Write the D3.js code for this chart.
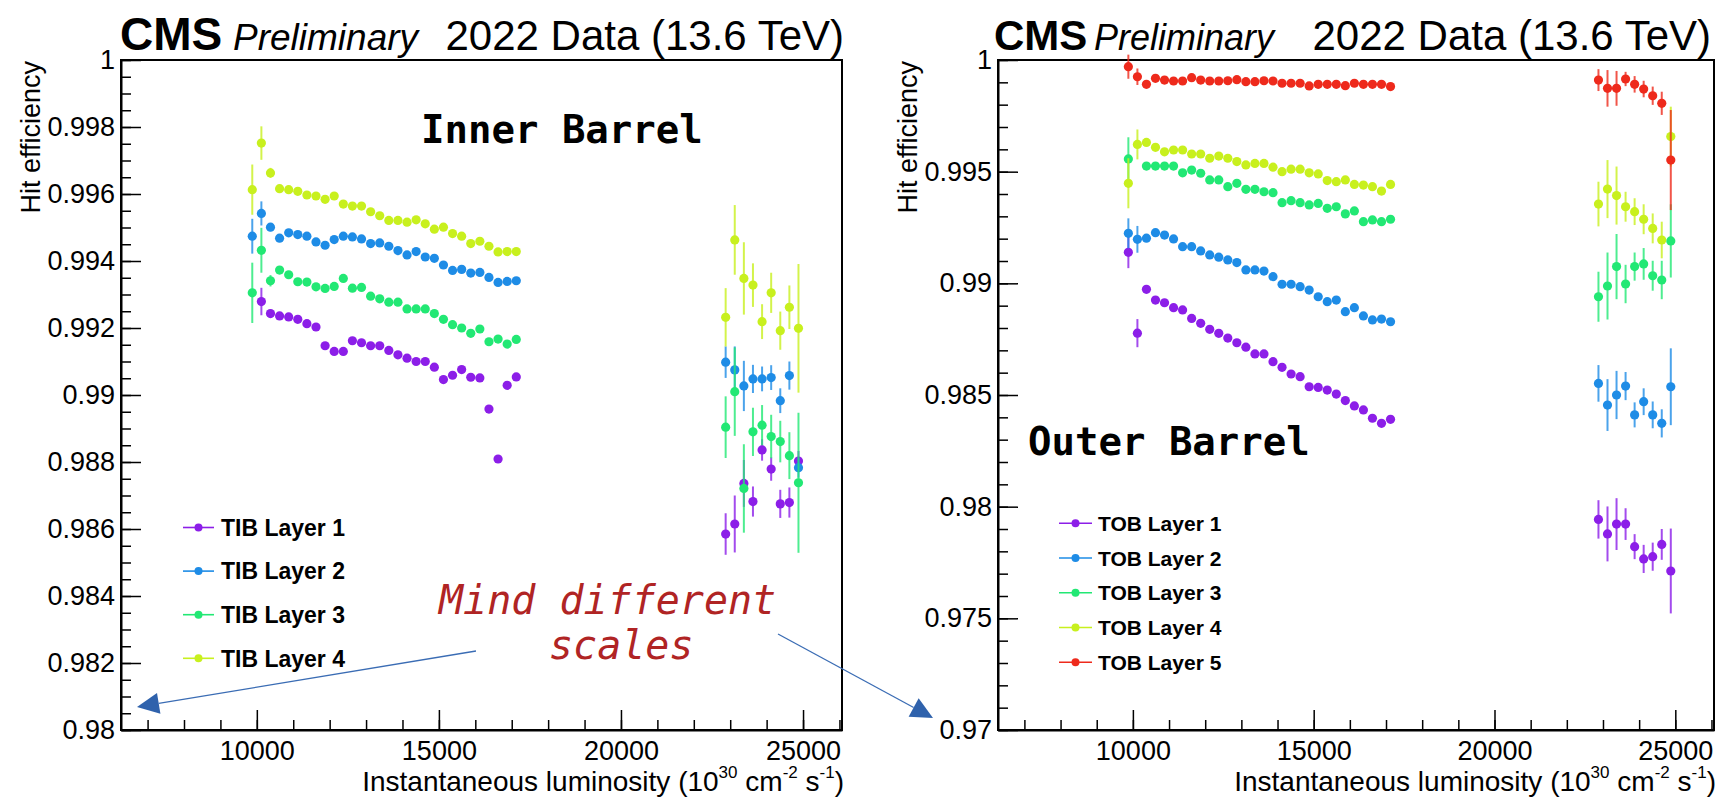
<!DOCTYPE html>
<html>
<head>
<meta charset="utf-8">
<script src="https://cdn.jsdelivr.net/npm/d3@7"></script>
<style>
  body { margin: 0; background: #fff; }
  svg text { font-family: "Liberation Sans", Arial, Helvetica, sans-serif; }
  .mono { font-family: "DejaVu Sans Mono", monospace !important; }
</style>
</head>
<body>
<script>
// luminosity bin centres (10^30 cm^-2 s^-1)
var lumi = [9875, 10125, 10375, 10625, 10875, 11125, 11375, 11625, 11875, 12125,
            12375, 12625, 12875, 13125, 13375, 13625, 13875, 14125, 14375, 14625,
            14875, 15125, 15375, 15625, 15875, 16125, 16375, 16625, 16875, 17125,
            22875, 23125, 23375, 23625, 23875, 24125, 24375, 24625, 24875];

// Inner barrel efficiencies
var tib1 = [null, 0.99279, 0.99243, 0.99236, 0.99233, 0.99226, 0.99213, 0.99203, 0.99147, 0.9913,
            0.9913, 0.99162, 0.99156, 0.99147, 0.99147, 0.99133, 0.9912, 0.9911, 0.991, 0.991,
            0.99083, 0.99046, 0.99059, 0.99076, 0.99053, 0.99051, 0.98958, 0.98809, 0.99029, 0.99054,
            0.98585, 0.98615, 0.98736, 0.98682, 0.98836, 0.98779, 0.98675, 0.98679, 0.98803];
var tib2 = [0.99474, 0.99542, 0.99501, 0.99468, 0.99484, 0.99479, 0.99474, 0.99457, 0.99447, 0.99464,
            0.99474, 0.99472, 0.99466, 0.99452, 0.99454, 0.99444, 0.99431, 0.99418, 0.99428, 0.99412,
            0.99408, 0.99388, 0.99372, 0.99375, 0.99364, 0.99366, 0.99351, 0.99336, 0.99339, 0.99341,
            0.99098, 0.99075, 0.99027, 0.99048, 0.99048, 0.99052, 0.98983, 0.99058, 0.98783];
var tib3 = [0.99305, 0.99432, 0.99341, 0.99373, 0.99359, 0.99338, 0.99337, 0.99323, 0.99318, 0.99324,
            0.99348, 0.99319, 0.99321, 0.99295, 0.99287, 0.99277, 0.99277, 0.99257, 0.99257, 0.99257,
            0.99243, 0.99226, 0.9921, 0.992, 0.99184, 0.99197, 0.99159, 0.99167, 0.99152, 0.99166,
            0.98904, 0.9901, 0.98721, 0.9889, 0.9891, 0.98876, 0.98861, 0.98819, 0.98738];
var tib4 = [0.99613, 0.99752, 0.99663, 0.99616, 0.99613, 0.99608, 0.99597, 0.99594, 0.99584, 0.99594,
            0.9957, 0.99564, 0.99564, 0.99547, 0.99535, 0.99521, 0.99521, 0.99516, 0.99523, 0.99511,
            0.99495, 0.99501, 0.99482, 0.99474, 0.99452, 0.99459, 0.99444, 0.99427, 0.99428, 0.99428,
            0.99232, 0.99463, 0.99348, 0.99328, 0.99219, 0.99305, 0.99192, 0.99262, 0.99199];

var tibErr1 = [null, 0.00041, 0.00012, 0.0001, 0.0001, 0.0001, 0.0001, 0.0001, 0.0001, 0.0001,
               0.0001, 0.0001, 0.0001, 0.0001, 0.0001, 0.0001, 0.0001, 0.0001, 0.0001, 0.0001,
               0.0001, 0.0001, 0.0001, 0.0001, 0.0001, 0.0001, 0.0001, 0.0001, 0.0001, 0.0001,
               0.00062, 0.00085, 0.0007, 0.00045, 0.00032, 0.00035, 0.00042, 0.00045, 0.0003];
var tibErr2 = [0.00052, 0.00036, 0.00012, 0.0001, 0.0001, 0.0001, 0.0001, 0.0001, 0.0001, 0.0001,
               0.0001, 0.0001, 0.0001, 0.0001, 0.0001, 0.0001, 0.0001, 0.0001, 0.0001, 0.0001,
               0.0001, 0.0001, 0.0001, 0.0001, 0.0001, 0.0001, 0.0001, 0.0001, 0.0001, 0.0001,
               0.00047, 0.0007, 0.00075, 0.00042, 0.00037, 0.00037, 0.00037, 0.00042, 0.0003];
var tibErr3 = [0.0009, 0.00067, 0.00017, 0.0001, 0.0001, 0.0001, 0.0001, 0.0001, 0.0001, 0.0001,
               0.0001, 0.0001, 0.0001, 0.0001, 0.0001, 0.0001, 0.0001, 0.0001, 0.0001, 0.0001,
               0.0001, 0.0001, 0.0001, 0.0001, 0.0001, 0.0001, 0.0001, 0.0001, 0.0001, 0.0001,
               0.00092, 0.00132, 0.00132, 0.00072, 0.0006, 0.00065, 0.00062, 0.0007, 0.00209];
var tibErr4 = [0.00075, 0.0005, 0.00015, 0.0001, 0.0001, 0.0001, 0.0001, 0.0001, 0.0001, 0.0001,
               0.0001, 0.0001, 0.0001, 0.0001, 0.0001, 0.0001, 0.0001, 0.0001, 0.0001, 0.0001,
               0.0001, 0.0001, 0.0001, 0.0001, 0.0001, 0.0001, 0.0001, 0.0001, 0.0001, 0.0001,
               0.00087, 0.00104, 0.00108, 0.00065, 0.00052, 0.0006, 0.00057, 0.00065, 0.00192];

// Outer barrel efficiencies
var tob1 = [0.99139, 0.98777, 0.98973, 0.98925, 0.98913, 0.98891, 0.98881, 0.98843, 0.98821, 0.98794,
            0.98776, 0.98755, 0.98734, 0.98714, 0.98684, 0.98684, 0.98649, 0.98624, 0.98594, 0.98582,
            0.98537, 0.98534, 0.98522, 0.98504, 0.98475, 0.98451, 0.98433, 0.98396, 0.98373, 0.98391,
            0.97943, 0.97878, 0.97922, 0.97922, 0.97821, 0.97766, 0.97776, 0.97831, 0.97712];
var tob2 = [0.99224, 0.99197, 0.99202, 0.99227, 0.99216, 0.99199, 0.99164, 0.99164, 0.99145, 0.99127,
            0.99117, 0.99105, 0.99093, 0.9906, 0.9906, 0.99055, 0.9903, 0.98996, 0.98996, 0.98985,
            0.9897, 0.9894, 0.98918, 0.98925, 0.98873, 0.98891, 0.98854, 0.98836, 0.9884, 0.98828,
            0.98552, 0.98455, 0.985, 0.9854, 0.98411, 0.9847, 0.98411, 0.98373, 0.98537];
var tob3 = [0.99557, null, 0.99525, 0.99525, 0.99525, 0.99525, 0.99495, 0.99507, 0.99493, 0.99463,
            0.99463, 0.99433, 0.99448, 0.99421, 0.99421, 0.9941, 0.99406, 0.99361, 0.9937, 0.99361,
            0.99351, 0.99358, 0.99336, 0.99343, 0.99311, 0.99324, 0.99276, 0.99284, 0.99276, 0.99287,
            0.9894, 0.98988, 0.99075, 0.98997, 0.99075, 0.99087, 0.99034, 0.99015, 0.9919];
var tob4 = [0.99448, 0.99622, 0.99631, 0.99609, 0.99589, 0.99597, 0.99597, 0.99579, 0.99579, 0.9956,
            0.9957, 0.9956, 0.99545, 0.9953, 0.99537, 0.99537, 0.9952, 0.995, 0.99511, 0.99511,
            0.99495, 0.9949, 0.9946, 0.99455, 0.99463, 0.99443, 0.9944, 0.99433, 0.99413, 0.99443,
            0.99355, 0.99422, 0.99393, 0.99343, 0.99321, 0.99287, 0.99246, 0.99194, 0.99657];
var tob5 = [0.9997, 0.99925, 0.99891, 0.99918, 0.9991, 0.99906, 0.99906, 0.99921, 0.9991, 0.99906,
            0.99906, 0.99907, 0.99912, 0.99903, 0.99903, 0.99907, 0.99906, 0.99896, 0.99896, 0.99896,
            0.99884, 0.99891, 0.99891, 0.99891, 0.99885, 0.99896, 0.99891, 0.99891, 0.99891, 0.99881,
            0.9991, 0.99873, 0.99873, 0.99915, 0.99891, 0.9987, 0.9984, 0.99806, 0.99552];

var tobErr1 = [0.00071, 0.00063, 0.00015, 0.00015, 0.00015, 0.00015, 0.00015, 0.00015, 0.00015, 0.00015,
               0.00015, 0.00015, 0.00015, 0.00015, 0.00015, 0.00015, 0.00015, 0.00015, 0.00015, 0.00015,
               0.00015, 0.00015, 0.00015, 0.00015, 0.00015, 0.00015, 0.00015, 0.00015, 0.00015, 0.00015,
               0.00086, 0.00123, 0.00116, 0.00071, 0.00056, 0.00063, 0.00063, 0.00069, 0.0019];
var tobErr2 = [0.00067, 0.0006, 0.00015, 0.00015, 0.00015, 0.00015, 0.00015, 0.00015, 0.00015, 0.00015,
               0.00015, 0.00015, 0.00015, 0.00015, 0.00015, 0.00015, 0.00015, 0.00015, 0.00015, 0.00015,
               0.00015, 0.00015, 0.00015, 0.00015, 0.00015, 0.00015, 0.00015, 0.00015, 0.00015, 0.00015,
               0.00082, 0.00116, 0.00108, 0.00063, 0.00056, 0.0006, 0.0006, 0.00063, 0.00172];
var tobErr3 = [0.00097, null, 0.00015, 0.00015, 0.00015, 0.00015, 0.00015, 0.00015, 0.00015, 0.00015,
               0.00015, 0.00015, 0.00015, 0.00015, 0.00015, 0.00015, 0.00015, 0.00015, 0.00015, 0.00015,
               0.00015, 0.00015, 0.00015, 0.00015, 0.00015, 0.00015, 0.00015, 0.00015, 0.00015, 0.00015,
               0.00112, 0.0015, 0.00146, 0.00086, 0.00063, 0.00071, 0.00067, 0.00086, 0.00164];
var tobErr4 = [0.00112, 0.00067, 0.00015, 0.00015, 0.00015, 0.00015, 0.00015, 0.00015, 0.00015, 0.00015,
               0.00015, 0.00015, 0.00015, 0.00015, 0.00015, 0.00015, 0.00015, 0.00015, 0.00015, 0.00015,
               0.00015, 0.00015, 0.00015, 0.00015, 0.00015, 0.00015, 0.00015, 0.00015, 0.00015, 0.00015,
               0.001, 0.0013, 0.0013, 0.00067, 0.0006, 0.00067, 0.00067, 0.00082, 0.00134];
var tobErr5 = [0.00054, 0.00037, 0.00015, 0.00015, 0.00015, 0.00015, 0.00015, 0.00015, 0.00015, 0.00015,
               0.00015, 0.00015, 0.00015, 0.00015, 0.00015, 0.00015, 0.00015, 0.00015, 0.00015, 0.00015,
               0.00015, 0.00015, 0.00015, 0.00015, 0.00015, 0.00015, 0.00015, 0.00015, 0.00015, 0.00015,
               0.00049, 0.00082, 0.00078, 0.00032, 0.00037, 0.00037, 0.00041, 0.00052, 0.00224];

var tibNames = ["TIB Layer 1", "TIB Layer 2", "TIB Layer 3", "TIB Layer 4"];
var tobNames = ["TOB Layer 1", "TOB Layer 2", "TOB Layer 3", "TOB Layer 4", "TOB Layer 5"];
var layerColors = ["#8c1ee8", "#1e8ce6", "#22e874", "#c8f01e", "#ee2a1c"];

var xDomain = [6270, 26070];
var xMajor = [10000, 15000, 20000, 25000];
var tibTicks = [0.98, 0.982, 0.984, 0.986, 0.988, 0.99, 0.992, 0.994, 0.996, 0.998, 1];
var tobTicks = [0.97, 0.975, 0.98, 0.985, 0.99, 0.995, 1];

var svg = d3.select("body").append("svg")
    .attr("width", 1722)
    .attr("height", 800);

function styleAxis(sel, fontSize) {
    sel.attr("font-size", fontSize)
       .attr("font-family", "'Liberation Sans', Arial, sans-serif");
    sel.selectAll(".tick line").attr("stroke-width", 1.5);
    sel.selectAll(".tick text").attr("fill", "#000");
    sel.select(".domain").attr("stroke-width", 2);
}

function drawPanel(p) {
    var w = p.width, h = p.height;
    var g = svg.append("g").attr("transform", "translate(" + p.left + "," + p.top + ")");

    var x = d3.scaleLinear().domain(xDomain).range([0, w]);
    var y = d3.scaleLinear().domain(p.yDomain).range([h, 0]);

    // minor ticks, inward
    var xMinor = d3.range(7000, 26001, 1000);
    var yMinor = d3.range(p.yDomain[0], p.yDomain[1] + p.yStep / 2, p.yStep);

    g.append("g").attr("transform", "translate(0," + h + ")")
        .call(d3.axisBottom(x).tickValues(xMinor).tickSize(-10).tickFormat(""))
        .call(function(s) { s.select(".domain").remove(); s.selectAll("line").attr("stroke-width", 1.5); });
    g.append("g")
        .call(d3.axisLeft(y).tickValues(yMinor).tickSize(-10).tickFormat(""))
        .call(function(s) { s.select(".domain").remove(); s.selectAll("line").attr("stroke-width", 1.5); });

    // major ticks + labels
    var gx = g.append("g").attr("transform", "translate(0," + h + ")")
        .call(d3.axisBottom(x).tickValues(xMajor).tickSize(-20).tickSizeOuter(0)
              .tickPadding(11).tickFormat(d3.format("d")));
    styleAxis(gx, 27);

    var gy = g.append("g")
        .call(d3.axisLeft(y).tickValues(p.yTicks).tickSize(-20).tickSizeOuter(0)
              .tickPadding(6).tickFormat(d3.format(".3~f")));
    styleAxis(gy, 27);

    // frame
    g.append("rect")
        .attr("width", w).attr("height", h)
        .attr("fill", "none").attr("stroke", "#000").attr("stroke-width", 2);

    // axis titles
    g.append("text")
        .attr("transform", "rotate(-90)")
        .attr("x", -1).attr("y", -81)
        .attr("text-anchor", "end")
        .attr("font-size", 27)
        .text("Hit efficiency");

    var xt = g.append("text")
        .attr("x", w + 2).attr("y", h + 61)
        .attr("text-anchor", "end")
        .attr("font-size", 28);
    xt.append("tspan").text("Instantaneous luminosity (10");
    xt.append("tspan").attr("dy", -13).attr("font-size", 17).text("30");
    xt.append("tspan").attr("dy", 13).text(" cm");
    xt.append("tspan").attr("dy", -13).attr("font-size", 17).text("-2");
    xt.append("tspan").attr("dy", 13).text(" s");
    xt.append("tspan").attr("dy", -13).attr("font-size", 17).text("-1");
    xt.append("tspan").attr("dy", 13).text(")");

    // data: error bars then markers, layer by layer
    p.series.forEach(function(vals, k) {
        var pts = lumi.map(function(l, i) { return {x: l, v: vals[i], e: p.errors[k][i]}; })
                      .filter(function(d) { return d.v != null; });
        var col = layerColors[k];
        var s = g.append("g");
        s.selectAll("line.err").data(pts).enter().append("line")
            .attr("class", "err")
            .attr("x1", function(d) { return x(d.x); })
            .attr("x2", function(d) { return x(d.x); })
            .attr("y1", function(d) { return y(d.v - d.e); })
            .attr("y2", function(d) { return y(d.v + d.e); })
            .attr("stroke", col).attr("stroke-width", 2).attr("stroke-opacity", 0.8);
        s.selectAll("circle").data(pts).enter().append("circle")
            .attr("cx", function(d) { return x(d.x); })
            .attr("cy", function(d) { return y(d.v); })
            .attr("r", 4.6)
            .attr("fill", col);
    });

    // legend
    var lg = p.legend;
    p.names.forEach(function(name, k) {
        var yy = lg.y0 + k * lg.dy;
        svg.append("line")
            .attr("x1", lg.x1).attr("x2", lg.x2).attr("y1", yy).attr("y2", yy)
            .attr("stroke", layerColors[k]).attr("stroke-width", 1.6);
        svg.append("circle")
            .attr("cx", (lg.x1 + lg.x2) / 2).attr("cy", yy).attr("r", 4)
            .attr("fill", layerColors[k]);
        svg.append("text")
            .attr("x", lg.tx).attr("y", yy).attr("dy", "0.36em")
            .attr("font-size", lg.font).attr("font-weight", "bold")
            .text(name);
    });

    // header
    svg.append("text").attr("x", p.cmsX).attr("y", 50)
        .attr("font-size", p.cmsSize).attr("font-weight", "bold").text("CMS");
    svg.append("text").attr("x", p.prelimX).attr("y", 50)
        .attr("font-size", p.prelimSize).attr("font-style", "italic").text("Preliminary");
    svg.append("text").attr("x", p.dataRight).attr("y", 50)
        .attr("text-anchor", "end").attr("font-size", 42).text("2022 Data (13.6 TeV)");

    // detector label
    svg.append("text").attr("class", "mono")
        .attr("x", p.label.x).attr("y", p.label.y)
        .attr("font-size", 39).attr("font-weight", "bold")
        .text(p.label.text);
}

drawPanel({
    left: 121, top: 60, width: 721, height: 670,
    yDomain: [0.98, 1], yStep: 0.0005, yTicks: tibTicks,
    series: [tib1, tib2, tib3, tib4],
    errors: [tibErr1, tibErr2, tibErr3, tibErr4],
    names: tibNames,
    legend: {x1: 183, x2: 214, tx: 221, y0: 527.5, dy: 43.6, font: 23},
    label: {text: "Inner Barrel", x: 421, y: 143},
    cmsX: 120, cmsSize: 46, prelimX: 233, prelimSize: 37, dataRight: 844
});

drawPanel({
    left: 998, top: 60, width: 716, height: 670,
    yDomain: [0.97, 1], yStep: 0.001, yTicks: tobTicks,
    series: [tob1, tob2, tob3, tob4, tob5],
    errors: [tobErr1, tobErr2, tobErr3, tobErr4, tobErr5],
    names: tobNames,
    legend: {x1: 1059, x2: 1092, tx: 1098, y0: 523.3, dy: 34.75, font: 21},
    label: {text: "Outer Barrel", x: 1028, y: 455},
    cmsX: 994, cmsSize: 42, prelimX: 1094, prelimSize: 36, dataRight: 1711
});

// annotation
svg.append("text").attr("class", "mono")
    .attr("x", 439).attr("y", 614)
    .attr("font-size", 40).attr("font-style", "italic").attr("fill", "#b02424")
    .text("Mind different");
svg.append("text").attr("class", "mono")
    .attr("x", 549).attr("y", 659)
    .attr("font-size", 40).attr("font-style", "italic").attr("fill", "#b02424")
    .text("scales");

var arrows = [
    {from: [476, 651], tip: [137, 707]},
    {from: [778, 634], tip: [933, 718]}
];
arrows.forEach(function(a) {
    var dx = a.tip[0] - a.from[0], dy = a.tip[1] - a.from[1];
    var len = Math.sqrt(dx * dx + dy * dy);
    var ux = dx / len, uy = dy / len;
    var bx = a.tip[0] - 22 * ux, by = a.tip[1] - 22 * uy;
    svg.append("line")
        .attr("x1", a.from[0]).attr("y1", a.from[1]).attr("x2", bx).attr("y2", by)
        .attr("stroke", "#3a6cb4").attr("stroke-width", 1.3);
    svg.append("path")
        .attr("d", "M" + a.tip[0] + "," + a.tip[1] +
                   "L" + (bx - 10.5 * uy) + "," + (by + 10.5 * ux) +
                   "L" + (bx + 10.5 * uy) + "," + (by - 10.5 * ux) + "Z")
        .attr("fill", "#2f62ac");
});
</script>
</body>
</html>
